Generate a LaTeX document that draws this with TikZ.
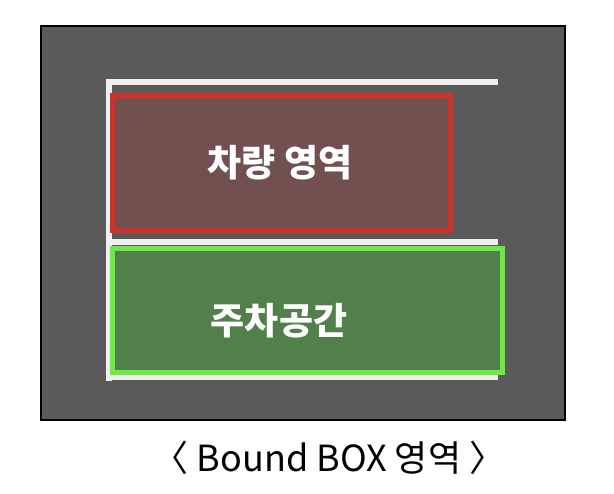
\documentclass[tikz,border=0pt]{standalone}
\usepackage{fontspec}
\setmainfont{Noto Sans CJK KR}
\definecolor{bggray}{HTML}{5A5A5A}
\definecolor{redfill}{HTML}{735050}
\definecolor{redline}{HTML}{D0302A}
\definecolor{greenfill}{HTML}{52804A}
\definecolor{greenline}{HTML}{6EE842}
\definecolor{wline}{HTML}{F0F0F0}
\begin{document}
\begin{tikzpicture}[x=1pt,y=-1pt,
  zone/.style={draw,line width=5pt,inner sep=0pt,outer sep=0pt},
  ztext/.style={font=\fontsize{37}{44}\selectfont\bfseries,text=white,inner sep=0pt},
  guide/.style={draw=wline,line width=6pt}]
\useasboundingbox (0,0) rectangle (614,494);
\node[draw=black,line width=2pt,outer sep=0pt,fill=bggray,minimum width=524pt,minimum height=394pt,anchor=north west] (bg) at (41,26) {};
\draw[guide] (109,79) -- (109,381);
\draw[guide] (106,82) -- (498,82);
\draw[guide] (106,242) -- (498,242);
\draw[guide] (106,377.5) -- (498,377.5);
\node[zone,draw=redline,fill=redfill,minimum width=338pt,minimum height=135pt,anchor=north west] (car) at (112.5,95.5) {};
\node[ztext] (cartxt) at (280,163) {차량 영역};
\node[zone,draw=greenline,fill=greenfill,minimum width=390pt,minimum height=124pt,anchor=north west] (park) at (112.5,248.5) {};
\node[ztext] (parktxt) at (279,321) {주차공간};
\node[font=\fontsize{36}{42}\selectfont] (cap) at (329,458) {〈 Bound BOX 영역 〉};
\end{tikzpicture}
\end{document}
